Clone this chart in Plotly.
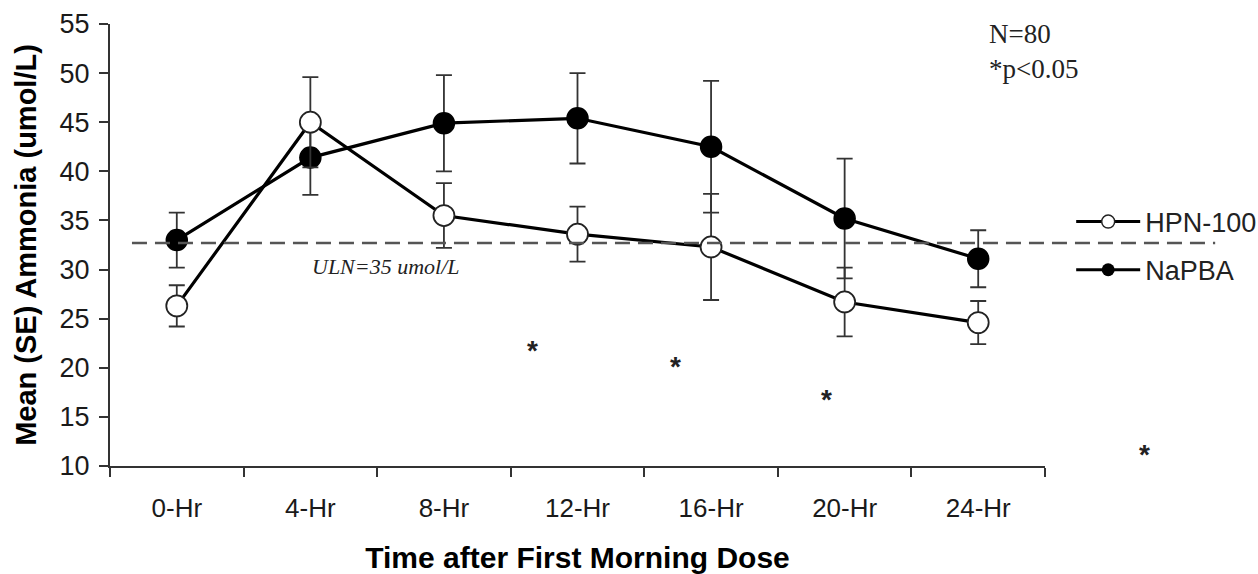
import plotly.graph_objects as go

# ---- data ----
times = ["0-Hr", "4-Hr", "8-Hr", "12-Hr", "16-Hr", "20-Hr", "24-Hr"]
hpn_mean = [26.3, 45.0, 35.5, 33.6, 32.3, 26.7, 24.6]
hpn_se = [2.1, 4.6, 3.3, 2.8, 5.4, 3.5, 2.2]
napba_mean = [33.0, 41.4, 44.9, 45.4, 42.5, 35.2, 31.1]
napba_se = [2.8, 3.8, 4.9, 4.6, 6.7, 6.1, 2.9]
uln_level = 32.7
uln_label = "ULN=35 umol/L"
star_x = [2.66, 3.73, 4.92, 7.30]
star_y = [21.8, 20.1, 16.8, 11.2]
y_ticks = [10, 15, 20, 25, 30, 35, 40, 45, 50, 55]

SANS = "Liberation Sans, Arial, sans-serif"
SERIF = "Liberation Serif, Times New Roman, serif"
X_RANGE = [-0.5, 6.5]

fig = go.Figure()

err_style = dict(type="data", color="#333333", thickness=1.8, width=8, visible=True)

fig.add_trace(go.Scatter(
    x=times, y=napba_mean, mode="lines+markers", name="NaPBA", showlegend=False,
    line=dict(color="black", width=3.2),
    marker=dict(symbol="circle", size=21, color="black", line=dict(color="black", width=1.5)),
    error_y=dict(array=napba_se, **err_style),
))
fig.add_trace(go.Scatter(
    x=times, y=hpn_mean, mode="lines+markers", name="HPN-100", showlegend=False,
    line=dict(color="black", width=3.2),
    marker=dict(symbol="circle", size=21, color="white", line=dict(color="#222222", width=1.8)),
    error_y=dict(array=hpn_se, **err_style),
))

# legend entries
fig.add_trace(go.Scatter(
    x=[None], y=[None], mode="lines+markers", name="HPN-100", legend="legend",
    line=dict(color="black", width=3),
    marker=dict(symbol="circle", size=13, color="white", line=dict(color="#222222", width=1.5)),
))
fig.add_trace(go.Scatter(
    x=[None], y=[None], mode="lines+markers", name="NaPBA", legend="legend2",
    line=dict(color="black", width=3),
    marker=dict(symbol="circle", size=13, color="black"),
))

# ULN dashed line
fig.add_shape(type="line", xref="paper", x0=0.0235, x1=1.182, yref="y",
              y0=uln_level, y1=uln_level,
              line=dict(color="#555555", width=2.5, dash="15px,8px"))

annotations = [
    dict(x=1.57, y=uln_level - 2.35, xref="x", yref="y", text=uln_label, showarrow=False,
         font=dict(family=SERIF, size=22, color="#222222", style="italic")),
]
for sx, sy in zip(star_x, star_y):
    # position in paper units along x (some marks sit outside the axis range)
    px = (sx - X_RANGE[0]) / (X_RANGE[1] - X_RANGE[0])
    annotations.append(dict(x=px, y=sy, xref="paper", yref="y", text="<b>*</b>", showarrow=False,
                            font=dict(family=SANS, size=28, color="#222222")))
annotations.append(dict(x=0.938, y=1.016, xref="paper", yref="paper", xanchor="left", yanchor="top",
                        text="N=80<br>*p&lt;0.05", showarrow=False, align="left",
                        font=dict(family=SERIF, size=27, color="#222222")))

fig.update_layout(
    width=1258, height=574, autosize=False,
    margin=dict(l=110, r=213, t=24, b=108, autoexpand=False),
    plot_bgcolor="white", paper_bgcolor="white",
    font=dict(family=SANS, size=26, color="#222222"),
    annotations=annotations,
    legend=dict(x=1.028, y=0.552, xanchor="left", yanchor="middle", itemwidth=64,
                bgcolor="rgba(0,0,0,0)", font=dict(family=SANS, size=27, color="#222222")),
    legend2=dict(x=1.028, y=0.443, xanchor="left", yanchor="middle", itemwidth=64,
                 bgcolor="rgba(0,0,0,0)", font=dict(family=SANS, size=27, color="#222222")),
    xaxis=dict(
        type="category", range=X_RANGE, tickson="boundaries", automargin=False,
        showgrid=False, showline=True, linecolor="#333333", linewidth=2,
        ticks="outside", ticklen=9, tickwidth=2, tickcolor="#333333",
        tickfont=dict(family=SANS, size=26, color="#1a1a1a"),
        ticklabelstandoff=18,
        title=dict(text="Time after First Morning Dose", standoff=26,
                   font=dict(family=SANS, size=30, color="black", weight="bold")),
        zeroline=False,
    ),
    yaxis=dict(
        range=[10, 55], tickvals=y_ticks, automargin=False,
        showgrid=False, showline=True, linecolor="#333333", linewidth=2,
        ticks="outside", ticklen=9, tickwidth=2, tickcolor="#333333",
        tickfont=dict(family=SANS, size=27, color="#1a1a1a"),
        ticklabelstandoff=4,
        title=dict(text="Mean (SE) Ammonia (umol/L)", standoff=14,
                   font=dict(family=SANS, size=29, color="black", weight="bold")),
        zeroline=False,
    ),
)

fig.write_html(
    "out.html",
    config={"displayModeBar": False},
    post_script="document.body.style.margin='0';document.body.style.overflow='hidden';",
)
